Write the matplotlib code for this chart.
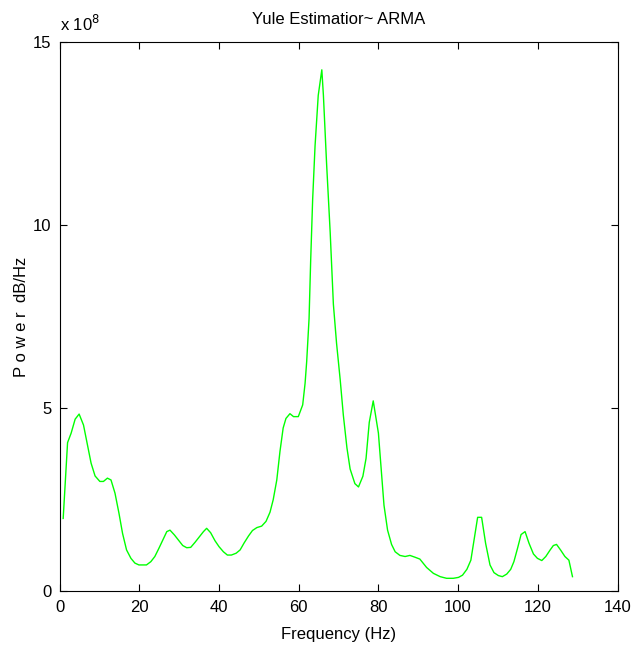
import numpy as np
import matplotlib
matplotlib.use("Agg")
import matplotlib.pyplot as plt

plt.rcParams.update({"font.family": ["Liberation Sans", "DejaVu Sans"],
                     "font.size": 11})

# frequency (Hz) and power (x 1e8)
freq = [0.9, 2.0, 2.9, 3.9, 4.9, 6.0, 7.0, 7.9, 8.9, 10.1, 11.0, 12.0, 12.9,
        13.9, 14.9, 15.8, 16.8, 17.9, 18.9, 19.9, 21.0, 21.8, 22.9, 23.9,
        24.9, 25.9, 26.9, 27.7, 28.8, 29.8, 30.9, 31.9, 32.9, 34.0, 35.0,
        36.1, 36.9, 37.9, 39.0, 40.0, 41.1, 42.1, 43.1, 44.3, 45.3, 46.3,
        47.4, 48.4, 49.5, 50.7, 51.8, 52.8, 53.6, 54.5, 55.3, 56.1, 56.8,
        57.8, 58.7, 59.9, 61.0, 61.6, 62.0, 62.6, 63.0, 63.5, 64.1, 64.9,
        65.8, 66.2, 67.0, 67.9, 68.7, 69.5, 70.4, 71.2, 72.1, 72.9, 74.1,
        75.0, 76.1, 76.9, 77.7, 78.7, 80.0, 80.7, 81.4, 82.3, 83.3, 84.2,
        85.4, 86.7, 87.9, 89.2, 90.4, 92.1, 93.8, 95.5, 97.1, 98.8, 100.1,
        101.1, 102.2, 103.2, 104.0, 104.9, 105.9, 106.9, 108.0, 109.0,
        110.1, 111.1, 112.2, 113.2, 114.0, 114.9, 115.8, 116.8, 117.8,
        118.9, 119.9, 121.0, 122.0, 123.1, 123.9, 124.7, 125.7, 126.8,
        127.8, 128.7]
power = [1.99, 4.06, 4.32, 4.70, 4.84, 4.54, 4.00, 3.50, 3.15, 3.00, 3.00,
         3.09, 3.04, 2.68, 2.13, 1.58, 1.13, 0.90, 0.77, 0.72, 0.72, 0.72,
         0.81, 0.95, 1.17, 1.40, 1.63, 1.67, 1.54, 1.40, 1.25, 1.19, 1.20,
         1.34, 1.48, 1.63, 1.72, 1.60, 1.38, 1.22, 1.08, 0.99, 0.99, 1.04,
         1.13, 1.32, 1.51, 1.66, 1.74, 1.78, 1.91, 2.16, 2.50, 3.04, 3.82,
         4.46, 4.72, 4.85, 4.77, 4.77, 5.09, 5.68, 6.27, 7.45, 9.02, 10.7,
         12.16, 13.54, 14.24, 13.54, 11.67, 9.80, 7.84, 6.77, 5.79, 4.81,
         3.92, 3.34, 2.94, 2.85, 3.14, 3.63, 4.61, 5.20, 4.32, 3.34, 2.35,
         1.67, 1.28, 1.08, 0.98, 0.95, 0.98, 0.93, 0.88, 0.65, 0.49, 0.40,
         0.355, 0.355, 0.38, 0.44, 0.60, 0.85, 1.40, 2.02, 2.02, 1.31, 0.72,
         0.51, 0.43, 0.40, 0.47, 0.60, 0.81, 1.17, 1.55, 1.63, 1.31, 1.02,
         0.90, 0.84, 0.95, 1.13, 1.25, 1.28, 1.13, 0.95, 0.85, 0.40]

xticks = [0, 20, 40, 60, 80, 100, 120, 140]
yticks = [0, 5, 10, 15]

fig = plt.figure(figsize=(6.34, 6.51), dpi=100)
ax = fig.add_axes([0.094, 0.0917, 0.880, 0.8438])
ax.plot(freq, power, color="#00FF00", lw=1.0)

ax.set_xlim(0, 140)
ax.set_ylim(0, 15)
ax.set_xticks(xticks)
ax.set_yticks(yticks)
ax.tick_params(direction="in", top=True, right=True, length=5, width=0.8,
               labelsize=12, pad=6)
for s in ax.spines.values():
    s.set_linewidth(0.8)

ax.set_xlabel("Frequency (Hz)", fontsize=12, labelpad=9)
ax.set_ylabel("P o w e r  dB/Hz", fontsize=12, labelpad=3)
ax.set_title("Yule Estimatior~ ARMA", fontsize=12, pad=13)
ax.text(0.0, 1.015, "x 10$^{8}$", transform=ax.transAxes, fontsize=12,
        ha="left", va="bottom")

fig.savefig("out.png", dpi=100)
